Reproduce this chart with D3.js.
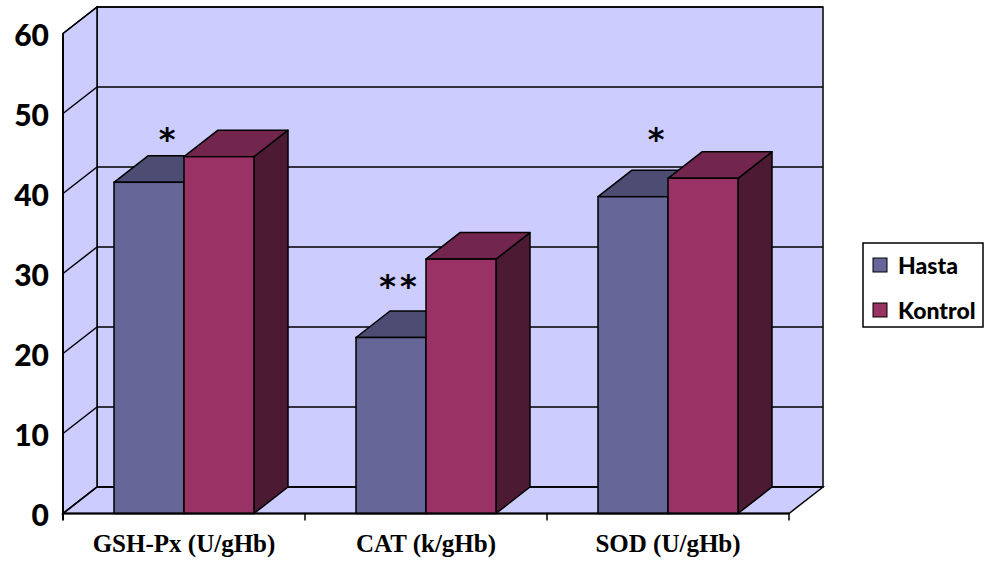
<!DOCTYPE html>
<html>
<head>
<meta charset="utf-8">
<script src="https://cdn.jsdelivr.net/npm/d3@7"></script>
<style>
  body { margin: 0; background: #fff; }
  .eixo-y text { font-family: Lato, "Open Sans", sans-serif; font-weight: 900; font-size: 30px; fill: #000; }
  .rotulo-x { font-family: "Liberation Serif", "Times New Roman", serif; font-weight: bold; font-size: 25px; text-anchor: middle; }
  .legenda text { font-family: Lato, "Open Sans", sans-serif; font-weight: 900; font-size: 23px; }
  .marca { font-family: "DejaVu Sans", sans-serif; font-weight: bold; font-size: 32px; text-anchor: middle; }
</style>
</head>
<body>
<svg id="grafico"></svg>
<script>
// dados
const categorias = ['GSH-Px (U/gHb)', 'CAT (k/gHb)', 'SOD (U/gHb)'];
const series = ['Hasta', 'Kontrol'];
const hasta = [41.4, 22.0, 39.6];
const kontrol = [44.6, 31.8, 41.9];
const marcas = ['*', '**', '*'];
const nivelMarcas = [47.6, 29.2, 47.6]; // altura das marcas de significância, em unidades do eixo Y
const ticksY = [0, 10, 20, 30, 40, 50, 60];

const largura = 990, altura = 561;
const svg = d3.select('#grafico').attr('width', largura).attr('height', altura);

// cores
const corFrente = { Hasta: '#666699', Kontrol: '#993366' };
const corTopo = { Hasta: '#4d4d73', Kontrol: '#73264d' };
const corLado = { Hasta: '#333350', Kontrol: '#4d1a33' };
const corParede = '#ccccff';

// profundidade 3D
const dx = 34, dy = -26.5;

// escalas
const x = d3.scaleBand().domain(categorias).range([63, 789]);
const xs = d3.scaleBand().domain(series).range([0, 140]);
const y = d3.scaleLinear().domain([0, 60]).range([513.5, 33.5]);

const [x0, x1] = x.range();
const y0 = y(0), yTopo = y(60);

// parede do fundo
svg.append('rect')
    .attr('x', x0 + dx).attr('y', yTopo + dy)
    .attr('width', x1 - x0).attr('height', y0 - yTopo)
    .attr('fill', corParede).attr('stroke', '#000').attr('stroke-width', 1.5);

// parede lateral
svg.append('polygon')
    .attr('points', [[x0, yTopo], [x0 + dx, yTopo + dy], [x0 + dx, y0 + dy], [x0, y0]].join(' '))
    .attr('fill', corParede).attr('stroke', '#000').attr('stroke-width', 1.5);

// chão
svg.append('polygon')
    .attr('points', [[x0, y0], [x0 + dx, y0 + dy], [x1 + dx, y0 + dy], [x1, y0]].join(' '))
    .attr('fill', corParede).attr('stroke', '#000').attr('stroke-width', 1.5);

// grade
const grade = svg.append('g').attr('id', 'grade');
ticksY.forEach(t => {
  grade.append('line')
      .attr('x1', x0 + dx).attr('x2', x1 + dx)
      .attr('y1', y(t) + dy).attr('y2', y(t) + dy)
      .attr('stroke', '#000').attr('stroke-width', 1.5);
  grade.append('line')
      .attr('x1', x0).attr('x2', x0 + dx)
      .attr('y1', y(t)).attr('y2', y(t) + dy)
      .attr('stroke', '#000').attr('stroke-width', 1.5);
});

// barras
const barras = svg.append('g').attr('id', 'barras');
categorias.forEach((c, i) => {
  const valores = { Hasta: hasta[i], Kontrol: kontrol[i] };
  const base = x(c) + (x.bandwidth() - 140) / 2;
  series.forEach(s => {
    const bx = base + xs(s), bw = xs.bandwidth();
    const by = y(valores[s]);
    const g = barras.append('g');
    g.append('polygon')
        .attr('points', [[bx + bw, by], [bx + bw + dx, by + dy], [bx + bw + dx, y0 + dy], [bx + bw, y0]].join(' '))
        .attr('fill', corLado[s]).attr('stroke', '#000').attr('stroke-width', 1.5).attr('stroke-linejoin', 'round');
    g.append('polygon')
        .attr('points', [[bx, by], [bx + dx, by + dy], [bx + bw + dx, by + dy], [bx + bw, by]].join(' '))
        .attr('fill', corTopo[s]).attr('stroke', '#000').attr('stroke-width', 1.5).attr('stroke-linejoin', 'round');
    g.append('rect')
        .attr('x', bx).attr('y', by).attr('width', bw).attr('height', y0 - by)
        .attr('fill', corFrente[s]).attr('stroke', '#000').attr('stroke-width', 1.5);
  });
});

// asteriscos (deslocamento horizontal a partir do centro da barra Hasta)
const desloc = [18, 9, 23];
svg.selectAll('.marca').data(categorias).enter()
  .append('text')
    .classed('marca', true)
    .attr('x', (c, i) => x(c) + (x.bandwidth() - 140) / 2 + xs('Hasta') + xs.bandwidth() / 2 + desloc[i])
    .attr('y', (c, i) => y(nivelMarcas[i]) + 17)
    .attr('letter-spacing', (c, i) => marcas[i].length > 1 ? 4 : 0)
    .text((c, i) => marcas[i]);

// eixo X
const eixoX = svg.append('g').attr('id', 'eixoX');
eixoX.append('line')
    .attr('x1', x0).attr('x2', x1).attr('y1', y0).attr('y2', y0)
    .attr('stroke', '#000').attr('stroke-width', 2);
categorias.forEach(c => {
  eixoX.append('line')
      .attr('x1', x(c) + x.bandwidth()).attr('x2', x(c) + x.bandwidth())
      .attr('y1', y0).attr('y2', y0 + 7)
      .attr('stroke', '#000').attr('stroke-width', 1.5);
});
eixoX.selectAll('.rotulo-x').data(categorias).enter()
  .append('text')
    .classed('rotulo-x', true)
    .attr('x', c => x(c) + x.bandwidth() / 2)
    .attr('y', 552)
    .text(c => c);

// eixo Y
svg.append('line')
    .attr('x1', x0).attr('x2', x0).attr('y1', yTopo).attr('y2', y0 + 7)
    .attr('stroke', '#000').attr('stroke-width', 2);
const eixoY = svg.append('g')
    .attr('class', 'eixo-y')
    .attr('transform', `translate(${x0 - 14}, 2)`)
    .call(d3.axisLeft(y).tickValues(ticksY).tickSize(0).tickPadding(0));
eixoY.select('.domain').remove();

// legenda
const legenda = svg.append('g').attr('class', 'legenda').attr('transform', 'translate(863, 243)');
legenda.append('rect')
    .attr('width', 120).attr('height', 84)
    .attr('fill', '#fff').attr('stroke', '#000').attr('stroke-width', 1.5);
series.forEach((s, i) => {
  legenda.append('rect')
      .attr('x', 10).attr('y', 15 + i * 45).attr('width', 14).attr('height', 14)
      .attr('fill', corFrente[s]).attr('stroke', '#000').attr('stroke-width', 1);
  legenda.append('text')
      .attr('x', 35).attr('y', 31 + i * 45)
      .text(s);
});
</script>
</body>
</html>
